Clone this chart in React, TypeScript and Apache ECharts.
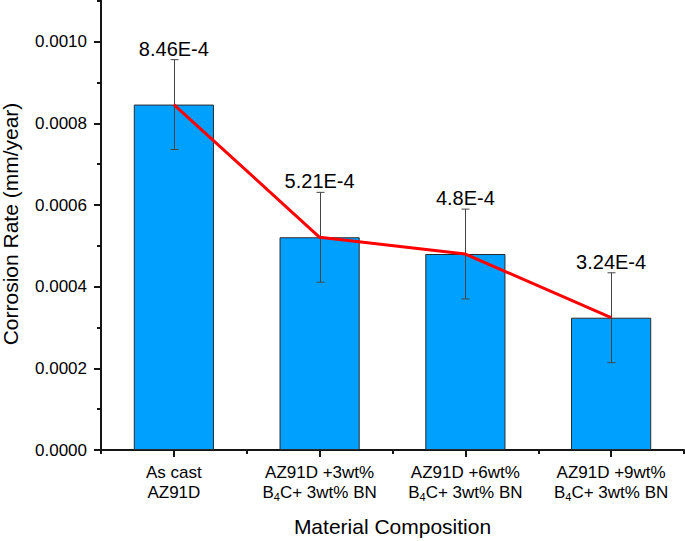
import React, { useEffect, useRef } from "react";
import * as echarts from "echarts";

const categories = [
  "As cast\nAZ91D",
  "AZ91D +3wt%\nB4C+ 3wt% BN",
  "AZ91D +6wt%\nB4C+ 3wt% BN",
  "AZ91D +9wt%\nB4C+ 3wt% BN",
];
const corrosionRate = [0.000846, 0.000521, 0.00048, 0.000324];
const errorValues = [0.00011, 0.00011, 0.00011, 0.00011];
const valueLabels = ["8.46E-4", "5.21E-4", "4.8E-4", "3.24E-4"];
const yMin = 0;
const yMax = 0.001107;
const yMajorStep = 0.0002;
const yMinorStep = 0.0001;

const FONT = "Arial, 'Liberation Sans', Helvetica, sans-serif";

function formatCategory(label: string): string {
  return label
    .split("\n")
    .map((line) => {
      if (line.startsWith("B4C")) {
        return `{n|B}{s|4}{n|${line.slice(2)}}`;
      }
      return `{n|${line}}`;
    })
    .join("\n");
}

export default function App() {
  const ref = useRef<HTMLDivElement>(null);

  useEffect(() => {
    if (!ref.current) return;
    const chart = echarts.init(ref.current, undefined, { renderer: "svg" });
    const ink = "#151515";

    const option: any = {
      animation: false,
      grid: {
        left: 101,
        right: 1,
        top: -2,
        bottom: 91,
        outerBoundsMode: "none",
      },
      xAxis: [
        {
          type: "category",
          data: categories,
          axisLine: { show: true, lineStyle: { color: ink, width: 2 } },
          axisTick: { show: true, alignWithLabel: true, length: 7, lineStyle: { color: ink, width: 2 } },
          axisLabel: {
            interval: 0,
            margin: 12,
            formatter: (v: string) => formatCategory(v),
            rich: {
              n: { fontSize: 17, lineHeight: 20, fontFamily: FONT, color: "#000" },
              s: { fontSize: 11, lineHeight: 12, fontFamily: FONT, color: "#000", verticalAlign: "bottom" },
            },
          },
          name: "Material Composition",
          nameLocation: "middle",
          nameGap: 66,
          nameTextStyle: { fontSize: 21, fontFamily: FONT, color: "#000" },
        },
        {
          type: "category",
          data: categories,
          position: "bottom",
          axisLine: { show: false },
          axisTick: { show: true, length: 4, lineStyle: { color: ink, width: 2 } },
          axisLabel: { show: false },
        },
      ],
      yAxis: [
        {
          type: "value",
          min: yMin,
          max: yMax,
          interval: yMajorStep,
          axisLine: { show: true, lineStyle: { color: ink, width: 2 } },
          axisTick: { show: true, length: 7, lineStyle: { color: ink, width: 2 } },
          axisLabel: {
            showMaxLabel: false,
            margin: 14,
            fontSize: 17,
            fontFamily: FONT,
            color: "#000",
            formatter: (v: number) => v.toFixed(4),
          },
          splitLine: { show: false },
          name: "Corrosion Rate (mm/year)",
          nameLocation: "middle",
          nameGap: 80,
          nameTextStyle: { fontSize: 21, fontFamily: FONT, color: "#000" },
        },
        {
          type: "value",
          min: yMin,
          max: yMax,
          interval: yMinorStep,
          position: "left",
          axisLine: { show: false },
          axisTick: { show: true, length: 4, lineStyle: { color: ink, width: 2 } },
          axisLabel: { show: false },
          splitLine: { show: false },
        },
      ],
      series: [
        {
          type: "bar",
          xAxisIndex: 0,
          yAxisIndex: 0,
          data: corrosionRate,
          barWidth: "55%",
          itemStyle: { color: "#00a0ff", borderColor: "#2a2a2a", borderWidth: 1 },
          z: 2,
        },
        {
          type: "custom",
          xAxisIndex: 0,
          yAxisIndex: 0,
          z: 3,
          data: corrosionRate.map((v, i) => [i, v, errorValues[i]]),
          renderItem: (params: any, api: any) => {
            const i = api.value(0);
            const v = api.value(1);
            const e = api.value(2);
            const top = api.coord([i, v + e]);
            const bot = api.coord([i, v - e]);
            const x = Math.round(top[0]) + 0.5;
            const cap = 4;
            const st = { stroke: "#454545", lineWidth: 1 };
            return {
              type: "group",
              children: [
                { type: "line", shape: { x1: x, y1: top[1], x2: x, y2: bot[1] }, style: st },
                { type: "line", shape: { x1: x - cap, y1: top[1], x2: x + cap, y2: top[1] }, style: st },
                { type: "line", shape: { x1: x - cap, y1: bot[1], x2: x + cap, y2: bot[1] }, style: st },
                {
                  type: "text",
                  x: top[0],
                  y: top[1] - 1,
                  style: {
                    text: valueLabels[params.dataIndex],
                    align: "center",
                    verticalAlign: "bottom",
                    fontSize: 20,
                    fontFamily: FONT,
                    fill: "#000",
                  },
                },
              ],
            };
          },
        },
        {
          type: "line",
          xAxisIndex: 0,
          yAxisIndex: 0,
          z: 4,
          data: corrosionRate,
          symbol: "none",
          lineStyle: { color: "#ff0000", width: 3 },
        },
      ],
    };

    chart.setOption(option);
    return () => chart.dispose();
  }, []);

  return <div ref={ref} style={{ width: 685, height: 541, position: "absolute", left: 0, top: 0 }} />;
}
